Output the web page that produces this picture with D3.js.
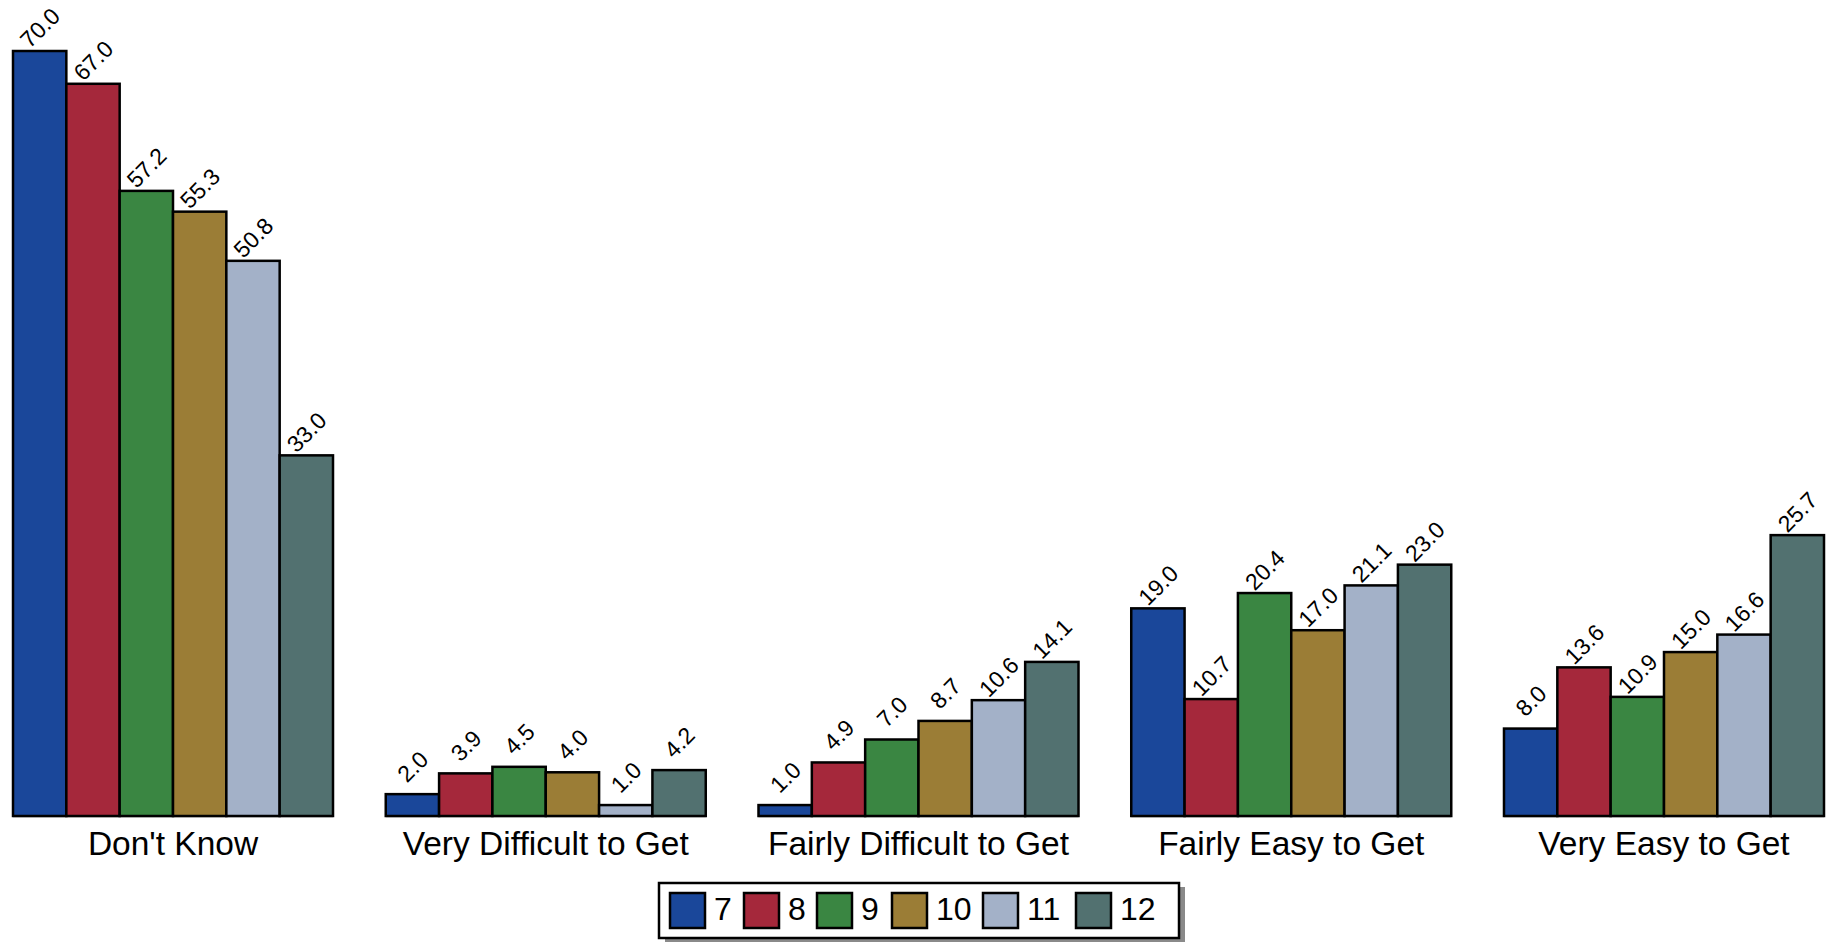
<!DOCTYPE html>
<html><head><meta charset="utf-8">
<script src="https://cdn.jsdelivr.net/npm/d3@7"></script>
<style>
html,body{margin:0;padding:0;background:#fff;}
svg text{font-family:"Liberation Sans",Arial,Helvetica,sans-serif;fill:#000;}
</style></head>
<body><svg id="chart" width="1835" height="943"></svg>
<script>
const categories = ["Don't Know","Very Difficult to Get","Fairly Difficult to Get","Fairly Easy to Get","Very Easy to Get"];
const seriesNames = ["7","8","9","10","11","12"];
const grade7  = [70.0, 2.0, 1.0, 19.0, 8.0];
const grade8  = [67.0, 3.9, 4.9, 10.7, 13.6];
const grade9  = [57.2, 4.5, 7.0, 20.4, 10.9];
const grade10 = [55.3, 4.0, 8.7, 17.0, 15.0];
const grade11 = [50.8, 1.0, 10.6, 21.1, 16.6];
const grade12 = [33.0, 4.2, 14.1, 23.0, 25.7];
const seriesValues = [grade7, grade8, grade9, grade10, grade11, grade12];
const colors = ["#1a479a","#a5283b","#3a8642","#9b7d36","#a3b1c8","#527170"];

const svg = d3.select("#chart");
const x0 = d3.scaleBand().domain(categories).range([13, 1824]).paddingInner(0.1415).paddingOuter(0);
const x1 = d3.scaleBand().domain(seriesNames).range([0, x0.bandwidth()]).padding(0);
const y = d3.scaleLinear().domain([0, 70]).range([816, 51]);

const data = [];
categories.forEach((c, ci) => {
  seriesNames.forEach((s, si) => {
    data.push({cat: c, ser: s, si: si, v: seriesValues[si][ci]});
  });
});

// baseline
categories.forEach(c => {
  svg.append("line").attr("x1", x0(c)).attr("x2", x0(c) + x0.bandwidth())
    .attr("y1", y(0) + 0.5).attr("y2", y(0) + 0.5).attr("stroke", "#888").attr("stroke-width", 1.5);
});

svg.append("g").selectAll("rect").data(data).join("rect")
  .attr("x", d => x0(d.cat) + x1(d.ser))
  .attr("y", d => y(d.v))
  .attr("width", x1.bandwidth())
  .attr("height", d => y(0) - y(d.v))
  .attr("fill", d => colors[d.si])
  .attr("stroke", "#000").attr("stroke-width", 2.5);

svg.append("g").selectAll("text").data(data).join("text")
  .attr("transform", d => {
    const label = d.v.toFixed(1);
    const cx = x0(d.cat) + x1(d.ser) + x1.bandwidth() / 2 + 6;
    const ty = y(d.v) - (label.length > 3 ? 17.5 : 22);
    return `translate(${cx},${ty}) rotate(-45)`;
  })
  .attr("text-anchor", "middle")
  .attr("font-size", 23)
  .text(d => d.v.toFixed(1));

// category axis labels
const xAxis = d3.axisBottom(x0).tickSize(0).tickPadding(0);
const gx = svg.append("g").attr("transform", `translate(0,${y(0)})`).call(xAxis);
gx.select(".domain").remove();
gx.selectAll("text").attr("font-size", 33.5).attr("dy", 0).attr("y", 39)
  .style("font-family", '"Liberation Sans",Arial,sans-serif').attr("fill", "#000");

// legend
const lg = svg.append("g").attr("transform", "translate(659,883)");
const lgW = 520, lgH = 55;
lg.append("rect").attr("x", 6).attr("y", 4).attr("width", lgW).attr("height", lgH).attr("fill", "#8a8a8a");
lg.append("rect").attr("x", 0).attr("y", 0).attr("width", lgW).attr("height", lgH)
  .attr("fill", "#fff").attr("stroke", "#000").attr("stroke-width", 2.5);
const swatchX = [11, 85, 158, 233, 324, 417];
seriesNames.forEach((s, i) => {
  const g = lg.append("g").attr("transform", `translate(${swatchX[i]},10)`);
  g.append("rect").attr("width", 35).attr("height", 35).attr("fill", colors[i])
    .attr("stroke", "#000").attr("stroke-width", 2.5);
  g.append("text").attr("x", 44).attr("y", 27).attr("font-size", 32).text(s);
});
</script></body></html>
